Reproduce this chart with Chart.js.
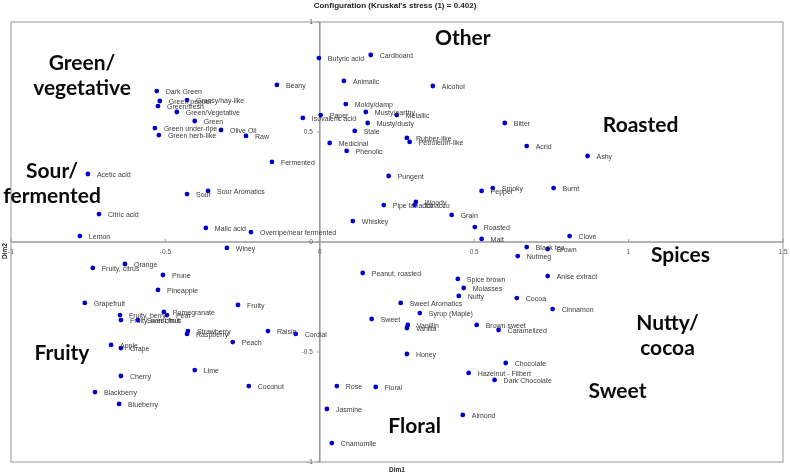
<!DOCTYPE html>
<html>
<head>
<meta charset="utf-8">
<script src="https://cdn.jsdelivr.net/npm/chart.js@4.4.1/dist/chart.umd.min.js"></script>
<style>
  html, body { margin: 0; padding: 0; background: #fff; }
  #wrap { width: 790px; height: 475px; position: relative; }
</style>
</head>
<body>
<div id="wrap"><canvas id="chart"></canvas></div>
<script>
// descriptor labels with their Dim1 / Dim2 coordinates
const descriptors = [
  'Dark Green', 'Green pepper', 'Grassy/hay-like', 'Green/fresh', 'Green/Vegetative', 'Green',
  'Green under-ripe', 'Olive Oil', 'Green herb-like', 'Raw', 'Beany',
  'Butyric acid', 'Cardboard', 'Animalic', 'Alcohol', 'Moldy/damp', 'Musty/earthy', 'Paper',
  'Isovaleric acid', 'Metallic', 'Musty/dusty', 'Stale', 'Medicinal', 'Phenolic',
  'Rubber-like', 'Petroleum-like', 'Fermented',
  'Bitter', 'Acrid', 'Ashy', 'Pungent', 'Smoky', 'Pepper', 'Burnt', 'Woody', 'Tobacco',
  'Pipe tobacco', 'Grain', 'Roasted', 'Malt', 'Clove', 'Whiskey',
  'Acetic acid', 'Sour', 'Sour Aromatics', 'Citric acid', 'Lemon', 'Malic acid',
  'Overripe/near fermented', 'Winey',
  'Black tea', 'Brown', 'Nutmeg', 'Anise extract', 'Peanut, roasted', 'Spice brown', 'Molasses',
  'Nutty', 'Cocoa', 'Sweet Aromatics', 'Cinnamon', 'Syrup (Maple)', 'Sweet', 'Vanillin', 'Vanilla',
  'Brown sweet', 'Caramelized', 'Honey', 'Chocolate', 'Hazelnut - Filbert', 'Dark Chocolate', 'Almond',
  'Rose', 'Floral', 'Jasmine', 'Chamomile',
  'Fruity, citrus', 'Orange', 'Prune', 'Pineapple', 'Grapefruit', 'Fruity', 'Pomegranate', 'Pear',
  'Fruity, berry', 'Fruity, non-citrus', 'Sweet fruit', 'Strawberry', 'Raspberry', 'Raisin', 'Cordial',
  'Peach', 'Apple', 'Grape', 'Lime', 'Cherry', 'Coconut', 'Blackberry', 'Blueberry'
];
const dim1 = [
  -0.528, -0.518, -0.430, -0.524, -0.463, -0.405,
  -0.534, -0.320, -0.521, -0.239, -0.139,
  -0.003, 0.165, 0.078, 0.366, 0.084, 0.149, 0.003,
  -0.055, 0.249, 0.155, 0.113, 0.032, 0.087,
  0.282, 0.291, -0.155,
  0.599, 0.670, 0.867, 0.223, 0.560, 0.524, 0.757, 0.311, 0.307,
  0.207, 0.427, 0.502, 0.524, 0.809, 0.107,
  -0.751, -0.430, -0.362, -0.715, -0.777, -0.369,
  -0.223, -0.301,
  0.670, 0.738, 0.641, 0.738, 0.139, 0.447, 0.466,
  0.450, 0.638, 0.262, 0.754, 0.324, 0.168, 0.285, 0.282,
  0.508, 0.579, 0.282, 0.602, 0.482, 0.566, 0.463,
  0.055, 0.181, 0.023, 0.039,
  -0.735, -0.631, -0.508, -0.524, -0.761, -0.265, -0.505, -0.495,
  -0.647, -0.644, -0.589, -0.427, -0.430, -0.168, -0.078,
  -0.282, -0.676, -0.644, -0.405, -0.644, -0.230, -0.728, -0.650
];
const dim2 = [
  0.686, 0.641, 0.645, 0.618, 0.591, 0.550,
  0.518, 0.509, 0.486, 0.482, 0.714,
  0.836, 0.850, 0.732, 0.709, 0.627, 0.591, 0.577,
  0.564, 0.577, 0.541, 0.505, 0.450, 0.414,
  0.473, 0.455, 0.364,
  0.541, 0.436, 0.391, 0.300, 0.245, 0.232, 0.245, 0.182, 0.168,
  0.168, 0.123, 0.068, 0.014, 0.027, 0.095,
  0.309, 0.218, 0.232, 0.127, 0.027, 0.064,
  0.045, -0.027,
  -0.023, -0.032, -0.064, -0.155, -0.141, -0.168, -0.209,
  -0.245, -0.255, -0.277, -0.305, -0.323, -0.350, -0.377, -0.391,
  -0.377, -0.400, -0.509, -0.550, -0.595, -0.627, -0.786,
  -0.655, -0.659, -0.759, -0.914,
  -0.118, -0.100, -0.150, -0.218, -0.277, -0.286, -0.318, -0.332,
  -0.332, -0.355, -0.355, -0.405, -0.418, -0.405, -0.418,
  -0.455, -0.468, -0.482, -0.582, -0.609, -0.655, -0.682, -0.736
];

// category names written over the map
const groupNames = ['Green/\nvegetative', 'Other', 'Roasted', 'Sour/\nfermented', 'Spices',
  'Nutty/\ncocoa', 'Fruity', 'Sweet', 'Floral'];
const groupDim1 = [-0.770, 0.463, 1.039, -0.867, 1.168, 1.126, -0.835, 0.964, 0.307];
const groupDim2 = [0.755, 0.927, 0.532, 0.264, -0.059, -0.427, -0.505, -0.677, -0.836];

const dim1Ticks = [-1, -0.5, 0, 0.5, 1, 1.5];
const dim2Ticks = [1, 0.5, 0, -0.5, -1];

const points = dim1.map((x, i) => ({ x: x, y: dim2[i] }));

// frame, axes through the origin, tick labels and group names
const mapDecor = {
  id: 'mapDecor',
  beforeDatasetsDraw(chart) {
    const ctx = chart.ctx;
    const area = chart.chartArea;
    const xs = chart.scales.x;
    const ys = chart.scales.y;
    const x0 = xs.getPixelForValue(0);
    const y0 = ys.getPixelForValue(0);

    ctx.save();
    ctx.strokeStyle = '#a8a8a8';
    ctx.lineWidth = 1.2;
    ctx.strokeRect(area.left, area.top, area.right - area.left, area.bottom - area.top);

    ctx.strokeStyle = '#9a9a9a';
    ctx.lineWidth = 1.6;
    ctx.beginPath();
    ctx.moveTo(area.left, y0); ctx.lineTo(area.right, y0);
    ctx.moveTo(x0, area.top); ctx.lineTo(x0, area.bottom);
    ctx.stroke();

    ctx.fillStyle = '#555';
    ctx.font = '6.5px "Liberation Sans", Arial, sans-serif';
    ctx.lineWidth = 1;
    dim1Ticks.forEach(v => {
      const px = xs.getPixelForValue(v);
      ctx.beginPath(); ctx.moveTo(px, y0 - 3); ctx.lineTo(px, y0); ctx.stroke();
      ctx.textAlign = 'center';
      ctx.textBaseline = 'top';
      ctx.fillText(String(v), px, y0 + 7);
    });
    dim2Ticks.forEach(v => {
      const py = ys.getPixelForValue(v);
      ctx.beginPath(); ctx.moveTo(x0 - 3, py); ctx.lineTo(x0, py); ctx.stroke();
      ctx.textAlign = 'right';
      ctx.textBaseline = 'middle';
      ctx.fillText(String(v), x0 - 7, py);
    });

    // axis titles and chart title
    ctx.fillStyle = '#222';
    ctx.font = 'bold 6.5px "Liberation Sans", Arial, sans-serif';
    ctx.textAlign = 'center';
    ctx.textBaseline = 'middle';
    ctx.fillText('Dim1', (area.left + area.right) / 2, area.bottom + 8);
    ctx.save();
    ctx.translate(5, y0 + 9);
    ctx.rotate(-Math.PI / 2);
    ctx.fillText('Dim2', 0, 0);
    ctx.restore();
    ctx.font = 'bold 8px "Liberation Sans", Arial, sans-serif';
    ctx.fillText("Configuration (Kruskal's stress (1) = 0.402)", 395, 6);

    ctx.fillStyle = '#0a0a0a';
    ctx.font = 'bold 21px Lato, "Open Sans", sans-serif';
    groupNames.forEach((name, i) => {
      const lines = name.split('\n');
      const cx = xs.getPixelForValue(groupDim1[i]);
      const cy = ys.getPixelForValue(groupDim2[i]);
      const lh = 25;
      lines.forEach((ln, k) => {
        ctx.fillText(ln, cx, cy + (k - (lines.length - 1) / 2) * lh);
      });
    });
    ctx.restore();
  },
  afterDatasetsDraw(chart) {
    const ctx = chart.ctx;
    const meta = chart.getDatasetMeta(0);
    ctx.save();
    ctx.fillStyle = '#3a3a3a';
    ctx.font = '7px "Liberation Sans", Arial, sans-serif';
    ctx.textAlign = 'left';
    ctx.textBaseline = 'middle';
    meta.data.forEach((pt, i) => {
      ctx.fillText(descriptors[i], pt.x + 9, pt.y + 1);
    });
    ctx.restore();
  }
};

new Chart(document.getElementById('chart'), {
  type: 'scatter',
  data: {
    datasets: [{
      label: 'Descriptors',
      data: points,
      backgroundColor: '#0000c8',
      borderColor: '#0000c8',
      pointRadius: 2.4,
      borderWidth: 0
    }]
  },
  options: {
    responsive: true,
    maintainAspectRatio: false,
    animation: false,
    layout: { padding: { left: 11, top: 22, right: 7, bottom: 13 } },
    plugins: {
      legend: { display: false },
      tooltip: { enabled: false },
      title: { display: false }
    },
    scales: {
      x: { type: 'linear', min: -1, max: 1.5, display: false },
      y: { type: 'linear', min: -1, max: 1, display: false }
    }
  },
  plugins: [mapDecor]
});
</script>
</body>
</html>
